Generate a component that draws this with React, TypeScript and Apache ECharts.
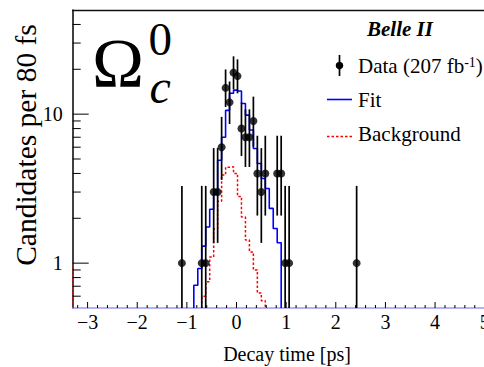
import { useEffect, useRef } from 'react';
import * as echarts from 'echarts';

const FONT = '"Liberation Serif", "Times New Roman", serif';

const X_MIN = -3.3;
const X_MAX = 5.0;
const Y_MIN = 0.5;
const Y_MAX = 50;

const xTickLabels = [-3, -2, -1, 0, 1, 2, 3, 4, 5];
const yTickLabels = [1, 10];
const yMinorTicks = [0.6, 0.7, 0.8, 0.9, 2, 3, 4, 5, 6, 7, 8, 9, 20, 30, 40];

// Data points (bin centres, counts, Poisson 68% intervals)
const dataTime = [-1.10, -0.70, -0.62, -0.46, -0.38, -0.30, -0.22, -0.14, -0.06, 0.02, 0.10, 0.18, 0.26, 0.34, 0.42, 0.50, 0.58, 0.82, 0.90, 0.98, 1.06, 2.42];
const dataCount = [1, 1, 1, 3, 3, 6, 15, 12, 19, 18, 8, 7, 7, 9, 4, 3, 4, 4, 4, 1, 1, 1];
const dataErrLow = [0.173, 0.173, 0.173, 1.367, 1.367, 3.62, 11.17, 8.59, 14.68, 13.8, 5.232, 4.419, 4.419, 6.057, 2.086, 1.367, 2.086, 2.086, 2.086, 0.173, 0.173, 0.173];
const dataErrHigh = [3.3, 3.3, 3.3, 5.918, 5.918, 9.584, 19.95, 16.56, 24.43, 23.32, 11.95, 10.77, 10.77, 13.11, 7.163, 5.918, 7.163, 7.163, 7.163, 3.3, 3.3, 3.3];

// Fit (step levels, left edges)
const fitEdges = [-0.86, -0.78, -0.70, -0.62, -0.54, -0.46, -0.38, -0.30, -0.22, -0.14, -0.06, 0.02, 0.10, 0.18, 0.26, 0.34, 0.42, 0.50, 0.58, 0.66, 0.74, 0.82];
const fitLevels = [0.71, 0.92, 1.3, 1.75, 2.3, 2.9, 4.9, 7.0, 10.6, 13.8, 14.5, 14.3, 11.8, 9.85, 7.83, 5.88, 4.66, 3.7, 3.17, 2.33, 1.71, 1.37];
const fitEnd = 0.90;

// Background (step levels, left edges)
const bgEdges = [-0.70, -0.62, -0.54, -0.46, -0.38, -0.30, -0.22, -0.14, -0.06, 0.02, 0.10, 0.18, 0.26, 0.34, 0.42, 0.50];
const bgLevels = [0.6, 0.75, 1.1, 1.7, 2.6, 3.9, 4.4, 4.43, 4.0, 2.8, 2.04, 1.43, 1.19, 0.9, 0.63, 0.56];
const bgEnd = 0.58;
const bgLeftMark = [[-3.29, Y_MIN], [-3.29, 1.0]];

function stepData(edges: number[], levels: number[], end: number) {
  const d: number[][] = [[edges[0], Y_MIN]];
  edges.forEach((e, i) => d.push([e, levels[i]]));
  d.push([end, Y_MIN]);
  return d;
}

function tickSeries(values: number[], axis: 'x' | 'y', len: number) {
  return {
    type: 'custom',
    coordinateSystem: 'cartesian2d',
    silent: true,
    z: 10,
    data: values.map((v) => (axis === 'x' ? [v, Y_MIN] : [X_MIN, v])),
    renderItem: (params: any, api: any) => {
      const p = api.coord([api.value(0), api.value(1)]);
      const shape =
        axis === 'x'
          ? { x1: p[0], y1: p[1], x2: p[0], y2: p[1] - len }
          : { x1: p[0], y1: p[1], x2: p[0] + len, y2: p[1] };
      return { type: 'line', shape, style: { stroke: '#000', lineWidth: 1 } };
    },
  };
}

export default function App() {
  const ref = useRef<HTMLDivElement>(null);

  useEffect(() => {
    if (!ref.current) return;
    const chart = echarts.init(ref.current, undefined, { renderer: 'svg' });

    const xMinor: number[] = [];
    for (let k = -16; k <= 24; k++) {
      if (k % 5 !== 0) xMinor.push(Math.round(k * 0.2 * 100) / 100);
    }

    const option: any = {
      animation: false,
      grid: { left: 72.7, top: 10, width: 412, height: 298, containLabel: false, outerBoundsMode: 'none' },
      xAxis: [
        {
          type: 'value',
          min: X_MIN,
          max: X_MAX,
          axisLine: { show: true, onZero: false, lineStyle: { color: '#9a9aee', width: 1.5 } },
          axisTick: { show: false },
          splitLine: { show: false },
          axisLabel: {
            customValues: xTickLabels,
            fontFamily: FONT,
            fontSize: 20,
            color: '#000',
            margin: 4,
            formatter: (v: number) => {
              const r = Math.round(v);
              return r < 0 ? '\u2212' + Math.abs(r) : String(r);
            },
          },
        },
        {
          type: 'value',
          position: 'top',
          min: X_MIN,
          max: X_MAX,
          axisLine: { show: true, onZero: false, lineStyle: { color: '#111', width: 1.3 } },
          axisTick: { show: false },
          axisLabel: { show: false },
          splitLine: { show: false },
        },
      ],
      yAxis: {
        type: 'log',
        logBase: 10,
        min: Y_MIN,
        max: Y_MAX,
        axisLine: { show: true, onZero: false, lineStyle: { color: '#000', width: 1.5 } },
        axisTick: { show: false },
        splitLine: { show: false },
        axisLabel: {
          customValues: yTickLabels,
          fontFamily: FONT,
          fontSize: 20,
          color: '#000',
          margin: 10,
          formatter: (v: number) => String(Math.round(v)),
        },
      },
      series: [
        {
          type: 'line',
          step: 'end',
          data: stepData(bgEdges, bgLevels, bgEnd),
          showSymbol: false,
          silent: true,
          z: 2,
          lineStyle: { color: '#ff0000', width: 1.5, type: [2.5, 2] },
        },
        {
          type: 'line',
          data: bgLeftMark,
          showSymbol: false,
          silent: true,
          z: 2,
          lineStyle: { color: '#ff0000', width: 1.5, type: [2.5, 2] },
        },
        {
          type: 'line',
          step: 'end',
          data: stepData(fitEdges, fitLevels, fitEnd),
          showSymbol: false,
          silent: true,
          z: 3,
          lineStyle: { color: '#0000ff', width: 1.6 },
        },
        {
          type: 'custom',
          coordinateSystem: 'cartesian2d',
          silent: true,
          z: 4,
          encode: { x: 0, y: [1, 2] },
          data: dataTime.map((t, i) => [t, dataErrLow[i], dataErrHigh[i]]),
          renderItem: (params: any, api: any) => {
            const x = api.value(0);
            const lo = api.coord([x, api.value(1)]);
            const hi = api.coord([x, api.value(2)]);
            const cs = params.coordSys;
            const bottom = cs.y + cs.height;
            const top = cs.y;
            return {
              type: 'line',
              shape: { x1: lo[0], y1: Math.min(lo[1], bottom), x2: hi[0], y2: Math.max(hi[1], top) },
              style: { stroke: '#000', lineWidth: 1.7 },
            };
          },
        },
        {
          type: 'scatter',
          data: dataTime.map((t, i) => [t, dataCount[i]]),
          symbol: 'circle',
          symbolSize: 8,
          silent: true,
          z: 5,
          itemStyle: { color: '#000' },
        },
        tickSeries(xTickLabels, 'x', 6),
        tickSeries(xMinor, 'x', 3),
        tickSeries(yTickLabels, 'y', 16),
        tickSeries(yMinorTicks, 'y', 8),
      ],
      graphic: [
        // Omega_c^0 label
        { type: 'text', x: 92, y: 63.5, style: { text: 'Ω', font: `70px ${FONT}`, fill: '#000', textAlign: 'left', textVerticalAlign: 'middle' } },
        { type: 'text', x: 148.5, y: 38.5, style: { text: '0', font: `47px ${FONT}`, fill: '#000', textAlign: 'left', textVerticalAlign: 'middle' } },
        { type: 'text', x: 149.5, y: 86.5, style: { text: 'c', font: `italic 48px ${FONT}`, fill: '#000', textAlign: 'left', textVerticalAlign: 'middle' } },
        // Axis titles
        { type: 'text', x: 26, y: 145, rotation: Math.PI / 2, style: { text: 'Candidates per 80 fs', font: `29.5px ${FONT}`, fill: '#000', textAlign: 'center', textVerticalAlign: 'middle' } },
        { type: 'text', x: 287, y: 354, style: { text: 'Decay time [ps]', font: `20px ${FONT}`, fill: '#000', textAlign: 'center', textVerticalAlign: 'middle' } },
        // Legend
        { type: 'text', x: 400, y: 29, style: { text: 'Belle II', font: `italic bold 21px ${FONT}`, fill: '#000', textAlign: 'center', textVerticalAlign: 'middle' } },
        { type: 'line', shape: { x1: 339.5, y1: 55, x2: 339.5, y2: 76 }, style: { stroke: '#000', lineWidth: 1.7 } },
        { type: 'circle', shape: { cx: 339.5, cy: 65.5, r: 3.8 }, style: { fill: '#000' } },
        {
          type: 'text',
          x: 358,
          y: 66,
          style: {
            text: '{a|Data (207 fb}{s|-1}{a|)}',
            fill: '#000',
            textAlign: 'left',
            textVerticalAlign: 'middle',
            rich: {
              a: { fontFamily: FONT, fontSize: 21, lineHeight: 22, fill: '#000' },
              s: { fontFamily: FONT, fontSize: 14, lineHeight: 13, verticalAlign: 'top', fill: '#000' },
            },
          },
        },
        { type: 'line', shape: { x1: 327, y1: 99.5, x2: 352, y2: 99.5 }, style: { stroke: '#0000ff', lineWidth: 1.6 } },
        { type: 'text', x: 358, y: 100, style: { text: 'Fit', font: `21px ${FONT}`, fill: '#000', textAlign: 'left', textVerticalAlign: 'middle' } },
        { type: 'line', shape: { x1: 327, y1: 136.5, x2: 352, y2: 136.5 }, style: { stroke: '#ff0000', lineWidth: 1.5, lineDash: [2.5, 2] } },
        { type: 'text', x: 358, y: 134, style: { text: 'Background', font: `21px ${FONT}`, fill: '#000', textAlign: 'left', textVerticalAlign: 'middle' } },
      ],
    };

    chart.setOption(option);
    return () => chart.dispose();
  }, []);

  return (
    <div
      ref={ref}
      style={{ position: 'absolute', left: 0, top: 0, width: 484, height: 367, background: '#fff' }}
    />
  );
}
